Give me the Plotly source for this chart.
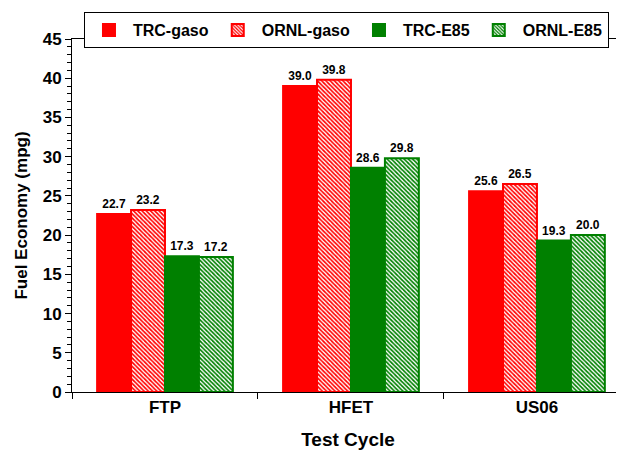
import plotly.graph_objects as go

categories = ["FTP", "HFET", "US06"]
trc_gaso = [22.7, 39.0, 25.6]
ornl_gaso = [23.2, 39.8, 26.5]
trc_e85 = [17.3, 28.6, 19.3]
ornl_e85 = [17.2, 29.8, 20.0]

RED = "#ff0000"
GREEN = "#008000"

lab_font = dict(family="Liberation Sans, Arial", size=12, color="black")

def bar(name, vals, color, patterned):
    marker = dict(color=color if not patterned else "white",
                  line=dict(color=color, width=2))
    if patterned:
        marker["pattern"] = dict(shape="\\", fgcolor=color, bgcolor="white",
                                 size=3, solidity=0.55, fillmode="replace")
    return go.Bar(name=name, x=categories, y=vals, marker=marker,
                  text=[f"<b>{v:.1f}</b>" for v in vals], textposition="outside",
                  textfont=lab_font, cliponaxis=False)

fig = go.Figure([
    bar("TRC-gaso", trc_gaso, RED, False),
    bar("ORNL-gaso", ornl_gaso, RED, True),
    bar("TRC-E85", trc_e85, GREEN, False),
    bar("ORNL-E85", ornl_e85, GREEN, True),
])

# page body has an 8px margin, so the figure is drawn 8px in from the window corner
fig.update_layout(
    width=616, height=443,
    margin=dict(l=64, r=0, t=31, b=59, autoexpand=False),
    paper_bgcolor="white", plot_bgcolor="white",
    barmode="group", bargap=0.27, bargroupgap=0,
    font=dict(family="Liberation Sans, Arial", color="black"),
    showlegend=True,
    legend=dict(orientation="h", x=0.0217, y=1.0765, xanchor="left", yanchor="top",
                bgcolor="white", bordercolor="black", borderwidth=1,
                font=dict(size=16, family="Liberation Sans, Arial", color="black", weight="bold"),
                itemwidth=38),
)
fig.update_xaxes(
    type="category", range=[-0.5, 2.468], automargin=False,
    showline=True, linecolor="black", linewidth=1, mirror=True,
    ticks="outside", tickson="boundaries", ticklen=6, tickcolor="black",
    tickfont=dict(size=17, weight="bold"),
    title=dict(text="<b>Test Cycle</b>", font=dict(size=19), standoff=16),
    showgrid=False,
)
fig.update_yaxes(
    range=[0, 45], tickvals=list(range(0, 46, 5)), automargin=False,
    showline=True, linecolor="black", linewidth=1,
    ticks="outside", ticklen=6, tickcolor="black",
    minor=dict(ticks="outside", ticklen=4, dtick=1, tickcolor="black", showgrid=False),
    tickfont=dict(size=17, weight="bold"),
    title=dict(text="<b>Fuel Economy (mpg)</b>", font=dict(size=17), standoff=10),
    showgrid=False, zeroline=False,
)

fig.write_html("out.html")
